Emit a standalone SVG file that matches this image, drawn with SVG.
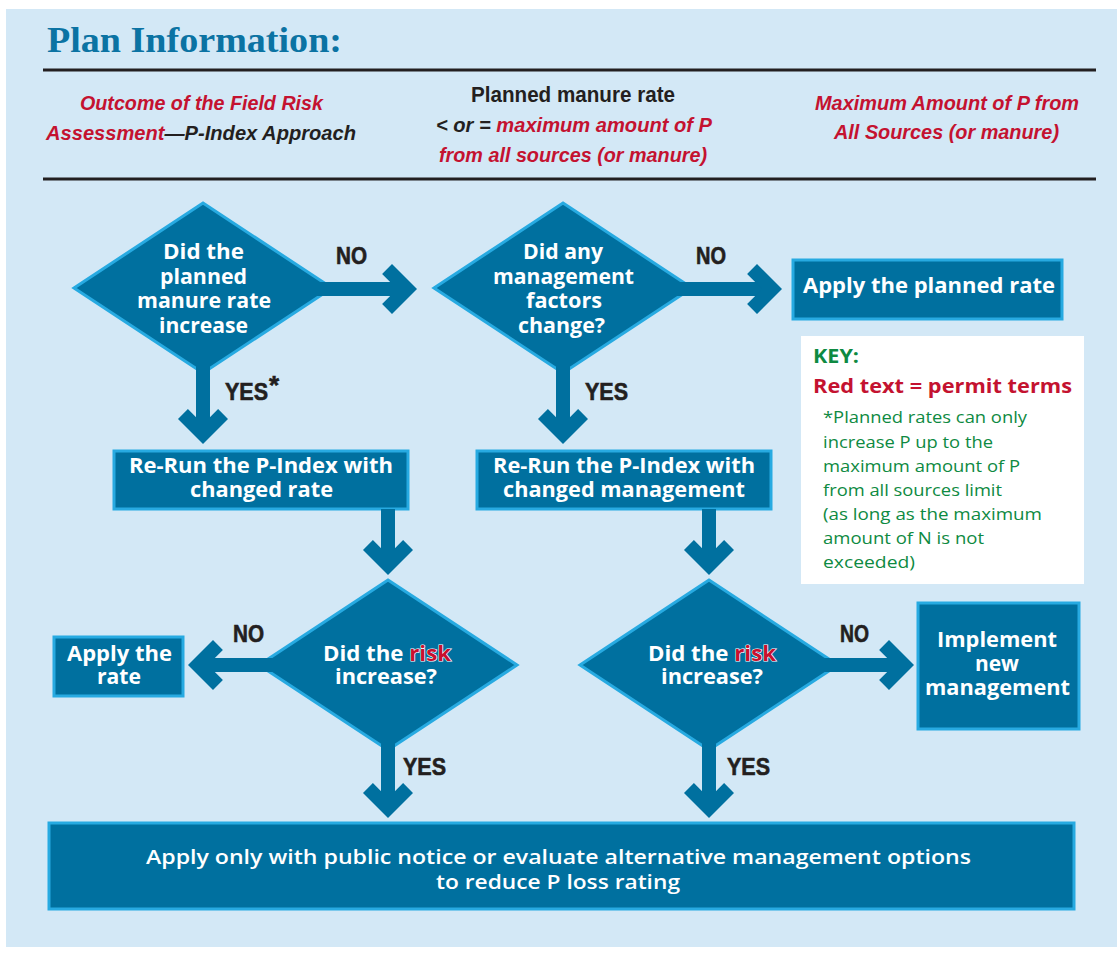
<svg xmlns="http://www.w3.org/2000/svg" width="1117" height="954" viewBox="0 0 1117 954">
<style>
.bg{fill:#d3e8f6}
.nd{fill:#00709f;stroke:#27aae1;stroke-width:3}
.ar{fill:#00709f}
.nt{font-family:"Open Sans","Liberation Sans",sans-serif;font-weight:700;font-size:20.5px;fill:#fff}
.bt{font-family:"Open Sans","Liberation Sans",sans-serif;font-weight:600;font-size:20px;fill:#fff}
.rk{fill:#c8102e;stroke:#fff;stroke-width:1.2;paint-order:stroke}
.lb{font-family:"Liberation Sans",Arial,sans-serif;font-weight:700;font-size:24px;fill:#231f20;stroke:#231f20;stroke-width:0.6}
.hd{font-family:"Liberation Sans",Arial,sans-serif;font-style:italic;font-weight:700;font-size:21px;fill:#c41230}
.blk{fill:#231f20}
.kg{font-family:"Open Sans","Liberation Sans",sans-serif;font-weight:500;font-size:17px;fill:#0e8a42}
.rule{stroke:#231f20;stroke-width:3}
</style>
<rect class="bg" x="6" y="9" width="1111" height="938"/>
<g id="header">
<text x="47" y="52" font-family="'Liberation Serif','DejaVu Serif',serif" font-weight="700" font-size="35" fill="#0b73a3" textLength="295" lengthAdjust="spacingAndGlyphs">Plan Information:</text>
<line class="rule" x1="43" y1="70" x2="1096" y2="70"/>
<line class="rule" x1="43" y1="179" x2="1096" y2="179"/>
<text class="hd" x="80" y="110" textLength="243" lengthAdjust="spacingAndGlyphs">Outcome of the Field Risk</text>
<text class="hd" x="46" y="140" textLength="310" lengthAdjust="spacingAndGlyphs">Assessment<tspan class="blk">—P-Index Approach</tspan></text>
<text x="471" y="102" font-family="'Liberation Sans',Arial,sans-serif" font-weight="700" font-size="22" fill="#231f20" textLength="204" lengthAdjust="spacingAndGlyphs">Planned manure rate</text>
<text class="hd" x="436" y="132" textLength="276" lengthAdjust="spacingAndGlyphs"><tspan class="blk">&lt; or = </tspan>maximum amount of P</text>
<text class="hd" x="439" y="162" textLength="268" lengthAdjust="spacingAndGlyphs">from all sources (or manure)</text>
<text class="hd" x="815" y="110" textLength="264" lengthAdjust="spacingAndGlyphs">Maximum Amount of P from</text>
<text class="hd" x="834" y="139" textLength="225" lengthAdjust="spacingAndGlyphs">All Sources (or manure)</text>
</g>
<g id="d1">
<polygon class="nd" points="203,203 332,288 203,373 74,288"/>
<text class="nt" x="163" y="259" textLength="81" lengthAdjust="spacingAndGlyphs">Did the</text>
<text class="nt" x="160" y="284" textLength="87" lengthAdjust="spacingAndGlyphs">planned</text>
<text class="nt" x="137" y="308" textLength="134" lengthAdjust="spacingAndGlyphs">manure rate</text>
<text class="nt" x="159" y="333" textLength="89" lengthAdjust="spacingAndGlyphs">increase</text>
</g>
<g id="d2">
<polygon class="nd" points="563,203 692,288 563,373 434,288"/>
<text class="nt" x="523" y="259" textLength="80" lengthAdjust="spacingAndGlyphs">Did any</text>
<text class="nt" x="493" y="284" textLength="141" lengthAdjust="spacingAndGlyphs">management</text>
<text class="nt" x="526" y="308" textLength="76" lengthAdjust="spacingAndGlyphs">factors</text>
<text class="nt" x="518" y="333" textLength="87" lengthAdjust="spacingAndGlyphs">change?</text>
</g>
<g id="apply-planned">
<rect class="nd" x="793" y="260" width="269" height="59"/>
<text class="nt" x="803" y="293" textLength="252" lengthAdjust="spacingAndGlyphs">Apply the planned rate</text>
</g>
<g id="key">
<rect x="801" y="336" width="283" height="248" fill="#fff"/>
<text x="813" y="363" font-family="'Open Sans','Liberation Sans',sans-serif" font-weight="700" font-size="19" fill="#0e8a42" textLength="46" lengthAdjust="spacingAndGlyphs">KEY:</text>
<text x="813" y="393" font-family="'Open Sans','Liberation Sans',sans-serif" font-weight="700" font-size="20" fill="#c41230" textLength="259" lengthAdjust="spacingAndGlyphs">Red text = permit terms</text>
<text class="kg" x="823" y="423" textLength="204" lengthAdjust="spacingAndGlyphs">*Planned rates can only</text>
<text class="kg" x="823" y="448" textLength="170" lengthAdjust="spacingAndGlyphs">increase P up to the</text>
<text class="kg" x="823" y="472" textLength="197" lengthAdjust="spacingAndGlyphs">maximum amount of P</text>
<text class="kg" x="823" y="496" textLength="179" lengthAdjust="spacingAndGlyphs">from all sources limit</text>
<text class="kg" x="823" y="520" textLength="219" lengthAdjust="spacingAndGlyphs">(as long as the maximum</text>
<text class="kg" x="823" y="544" textLength="161" lengthAdjust="spacingAndGlyphs">amount of N is not</text>
<text class="kg" x="823" y="568" textLength="92" lengthAdjust="spacingAndGlyphs">exceeded)</text>
</g>
<g id="rerun-rate">
<rect class="nd" x="114" y="451" width="294" height="58"/>
<text class="nt" x="129" y="473" textLength="264" lengthAdjust="spacingAndGlyphs">Re-Run the P-Index with</text>
<text class="nt" x="190" y="497" textLength="143" lengthAdjust="spacingAndGlyphs">changed rate</text>
</g>
<g id="rerun-mgmt">
<rect class="nd" x="477" y="451" width="294" height="58"/>
<text class="nt" x="493" y="473" textLength="262" lengthAdjust="spacingAndGlyphs">Re-Run the P-Index with</text>
<text class="nt" x="503" y="497" textLength="242" lengthAdjust="spacingAndGlyphs">changed management</text>
</g>
<g id="d3">
<polygon class="nd" points="388,580 517,665 388,750 259,665"/>
<text class="nt" x="323" y="661" textLength="128" lengthAdjust="spacingAndGlyphs">Did the <tspan class="rk">risk</tspan></text>
<text class="nt" x="335" y="684" textLength="102" lengthAdjust="spacingAndGlyphs">increase?</text>
</g>
<g id="d4">
<polygon class="nd" points="709,580 838,665 709,750 580,665"/>
<text class="nt" x="648" y="661" textLength="128" lengthAdjust="spacingAndGlyphs">Did the <tspan class="rk">risk</tspan></text>
<text class="nt" x="661" y="684" textLength="102" lengthAdjust="spacingAndGlyphs">increase?</text>
</g>
<g id="apply-rate">
<rect class="nd" x="54" y="637" width="129" height="59"/>
<text class="nt" x="67" y="661" textLength="105" lengthAdjust="spacingAndGlyphs">Apply the</text>
<text class="nt" x="97" y="684" textLength="44" lengthAdjust="spacingAndGlyphs">rate</text>
</g>
<g id="implement">
<rect class="nd" x="918" y="603" width="161" height="126"/>
<text class="nt" x="937" y="647" textLength="120" lengthAdjust="spacingAndGlyphs">Implement</text>
<text class="nt" x="975" y="671" textLength="44" lengthAdjust="spacingAndGlyphs">new</text>
<text class="nt" x="925" y="695" textLength="145" lengthAdjust="spacingAndGlyphs">management</text>
</g>
<g id="public-notice">
<rect class="nd" x="49" y="823" width="1025" height="86"/>
<text class="bt" x="146" y="864" textLength="825" lengthAdjust="spacingAndGlyphs">Apply only with public notice or evaluate alternative management options</text>
<text class="bt" x="436" y="889" textLength="244" lengthAdjust="spacingAndGlyphs">to reduce P loss rating</text>
</g>
<g id="connectors">
<rect class="ar" x="316" y="282" width="86" height="14"/>
<polygon class="ar" points="417,289 392,264 382.1,273.9 397.2,289 382.1,304.1 392,314"/>
<rect class="ar" x="676" y="282" width="91" height="14"/>
<polygon class="ar" points="782,289 757,264 747.1,273.9 762.2,289 747.1,304.1 757,314"/>
<rect class="ar" x="822" y="658" width="78" height="14"/>
<polygon class="ar" points="914,665 889,640 879.1,649.9 894.2,665 879.1,680.1 889,690"/>
<rect class="ar" x="203" y="658" width="72" height="14"/>
<polygon class="ar" points="188,665 213,640 222.9,649.9 207.8,665 222.9,680.1 213,690"/>
<rect class="ar" x="196" y="358" width="14" height="71"/>
<polygon class="ar" points="203,444 178,419 187.9,409.1 203,424.2 218.1,409.1 228,419"/>
<rect class="ar" x="556" y="358" width="14" height="71"/>
<polygon class="ar" points="563,444 538,419 547.9,409.1 563,424.2 578.1,409.1 588,419"/>
<rect class="ar" x="381" y="509" width="14" height="51"/>
<polygon class="ar" points="388,575 363,550 372.9,540.1 388,555.2 403.1,540.1 413,550"/>
<rect class="ar" x="702" y="509" width="14" height="51"/>
<polygon class="ar" points="709,575 684,550 693.9,540.1 709,555.2 724.1,540.1 734,550"/>
<rect class="ar" x="381" y="735" width="14" height="68"/>
<polygon class="ar" points="388,818 363,793 372.9,783.1 388,798.2 403.1,783.1 413,793"/>
<rect class="ar" x="702" y="735" width="14" height="68"/>
<polygon class="ar" points="709,818 684,793 693.9,783.1 709,798.2 724.1,783.1 734,793"/>
<text class="lb" x="336" y="264" textLength="31" lengthAdjust="spacingAndGlyphs">NO</text>
<text class="lb" x="696" y="264" textLength="30" lengthAdjust="spacingAndGlyphs">NO</text>
<text class="lb" x="233" y="642" textLength="31" lengthAdjust="spacingAndGlyphs">NO</text>
<text class="lb" x="840" y="642" textLength="29" lengthAdjust="spacingAndGlyphs">NO</text>
<text class="lb" y="400"><tspan x="225" textLength="43" lengthAdjust="spacingAndGlyphs">YES</tspan><tspan x="269" y="394" font-size="26">*</tspan></text>
<text class="lb" x="585" y="400" textLength="43" lengthAdjust="spacingAndGlyphs">YES</text>
<text class="lb" x="403" y="775" textLength="43" lengthAdjust="spacingAndGlyphs">YES</text>
<text class="lb" x="727" y="775" textLength="43" lengthAdjust="spacingAndGlyphs">YES</text>
</g>
</svg>
